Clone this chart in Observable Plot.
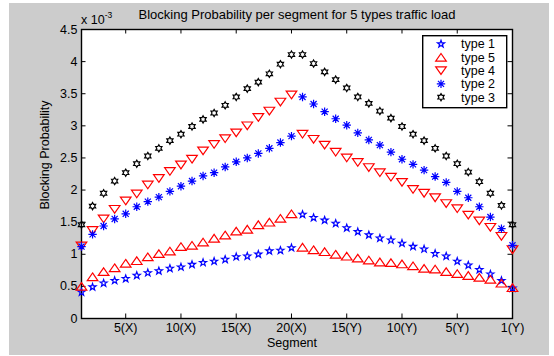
<!DOCTYPE html>
<html><head><meta charset="utf-8">
<script src="https://cdn.jsdelivr.net/npm/d3@7"></script>
<script src="https://cdn.jsdelivr.net/npm/@observablehq/plot@0.6"></script>
<style>
html,body{margin:0;padding:0;background:#fff;overflow:hidden;}
#wrap{position:relative;width:554px;height:356px;overflow:hidden;font-family:Arial,"Liberation Sans",sans-serif;color:#000;}
#bg{position:absolute;left:9px;top:3px;width:540px;height:352px;background:#cccccc;}
#chart{position:absolute;left:0;top:0;}
.t{position:absolute;white-space:nowrap;line-height:1;}
#legend{position:absolute;left:422px;top:35px;}
</style></head><body>
<div id="wrap">
  <div id="bg"></div>
  <div id="chart"></div>
  <div class="t" id="title" style="left:297px;top:14px;transform:translate(-50%,-50%);font-size:13px;">Blocking Probability per segment for 5 types traffic load</div>
  <div class="t" id="exp" style="left:81px;top:14px;font-size:12.5px;">x 10<span style="font-size:8.5px;position:relative;top:-6px;">-3</span></div>
  <div class="t" id="ylab" style="left:45px;top:155px;transform:translate(-50%,-50%) rotate(-90deg);font-size:12.5px;">Blocking Probability</div>
  <div class="t" id="xlab" style="left:292px;top:343px;transform:translate(-50%,-50%);font-size:12.5px;">Segment</div>
  <div id="legend"></div>
</div>
<script>
// ---- data ----
const segments = [1,2,3,4,5,6,7,8,9,10,11,12,13,14,15,16,17,18,19,20,21,22,23,24,25,26,27,28,29,30,31,32,33,34,35,36,37,38,39,40];
const xTickPos = [5,10,15,20,25,30,35,40];
const xTickLabels = ["5(X)","10(X)","15(X)","20(X)","15(Y)","10(Y)","5(Y)","1(Y)"];
const yTicks = [0,0.5,1,1.5,2,2.5,3,3.5,4,4.5];
const seriesNames = ["type 1","type 5","type 4","type 2","type 3"];
const type1 = [0.41,0.49,0.55,0.59,0.62,0.67,0.71,0.74,0.78,0.80,0.84,0.87,0.89,0.92,0.96,0.97,1.00,1.05,1.06,1.10,
               1.62,1.57,1.53,1.48,1.41,1.35,1.30,1.25,1.22,1.17,1.12,1.08,1.01,0.97,0.89,0.83,0.76,0.69,0.59,0.47];
const type5 = [0.50,0.65,0.73,0.79,0.86,0.90,0.96,1.01,1.05,1.12,1.14,1.19,1.25,1.30,1.36,1.39,1.46,1.50,1.56,1.63,
               1.11,1.07,1.04,1.00,0.97,0.94,0.91,0.88,0.87,0.85,0.82,0.78,0.77,0.73,0.70,0.67,0.64,0.61,0.55,0.48];
const type4 = [1.13,1.37,1.55,1.70,1.83,1.94,2.08,2.18,2.29,2.39,2.48,2.61,2.71,2.80,2.89,3.00,3.13,3.23,3.37,3.48,
               2.87,2.79,2.70,2.59,2.50,2.43,2.35,2.27,2.20,2.12,2.01,1.95,1.88,1.79,1.71,1.61,1.52,1.42,1.28,1.07];
const type2 = [1.12,1.31,1.44,1.55,1.63,1.74,1.82,1.89,1.98,2.06,2.14,2.22,2.27,2.36,2.44,2.50,2.57,2.65,2.74,2.84,
               3.45,3.34,3.22,3.11,3.01,2.89,2.78,2.70,2.59,2.48,2.40,2.31,2.21,2.12,1.98,1.88,1.74,1.58,1.40,1.14];
const type3 = [1.46,1.75,1.95,2.14,2.27,2.41,2.53,2.65,2.77,2.87,2.99,3.10,3.20,3.32,3.45,3.58,3.68,3.81,3.96,4.11,
               4.11,3.97,3.84,3.72,3.59,3.45,3.35,3.23,3.12,2.99,2.87,2.77,2.65,2.53,2.41,2.28,2.13,1.95,1.76,1.46];

// ---- marker shapes (MATLAB-like) ----
function starSym(n, inner) {
  return {draw(ctx, size) {
    const r = Math.sqrt(size / Math.PI);
    for (let i = 0; i < 2 * n; i++) {
      const a = -Math.PI / 2 + i * Math.PI / n, rr = i % 2 ? r * inner : r;
      const x = rr * Math.cos(a), y = rr * Math.sin(a);
      if (i) ctx.lineTo(x, y); else ctx.moveTo(x, y);
    }
    ctx.closePath();
  }};
}
const pentagram = starSym(5, 0.40), hexagram = starSym(6, 0.577);
const triUp = {draw(ctx, size) { const r = Math.sqrt(size / Math.PI);
  ctx.moveTo(0, -0.72 * r); ctx.lineTo(r, 0.72 * r); ctx.lineTo(-r, 0.72 * r); ctx.closePath(); }};
const triDown = {draw(ctx, size) { const r = Math.sqrt(size / Math.PI);
  ctx.moveTo(0, 0.72 * r); ctx.lineTo(r, -0.72 * r); ctx.lineTo(-r, -0.72 * r); ctx.closePath(); }};
const asterisk = {draw(ctx, size) { const r = Math.sqrt(size / Math.PI), d = r * 0.72;
  ctx.moveTo(-r, 0); ctx.lineTo(r, 0); ctx.moveTo(0, -r); ctx.lineTo(0, r);
  ctx.moveTo(-d, -d); ctx.lineTo(d, d); ctx.moveTo(-d, d); ctx.lineTo(d, -d); }};

const seriesValues = [type1, type5, type4, type2, type3];
const seriesStyle = [
  {symbol: pentagram, color: "#0000ff", r: 3.7},
  {symbol: triUp, color: "#ff0000", r: 5.3},
  {symbol: triDown, color: "#ff0000", r: 5.3},
  {symbol: asterisk, color: "#0000ff", r: 4.2},
  {symbol: hexagram, color: "#000000", r: 3.6}
];

const W = 554, H = 356, mL = 81, mR = 42, mT = 29, mB = 38;
const pw = W - mL - mR, ph = H - mT - mB, tk = 4.5;

const plot = Plot.plot({
  width: W, height: H,
  marginLeft: mL, marginRight: mR, marginTop: mT, marginBottom: mB,
  style: {background: "transparent", fontFamily: "Arial, 'Liberation Sans', sans-serif", fontSize: "12.5px", color: "black", overflow: "visible"},
  x: {domain: [1, 40]},
  y: {domain: [0, 4.5]},
  marks: [
    Plot.frame({fill: "white", stroke: "none"}),
    Plot.tickX(xTickPos, {x: d => d, insetTop: ph - tk, stroke: "black"}),
    Plot.tickX(xTickPos, {x: d => d, insetBottom: ph - tk, stroke: "black"}),
    Plot.tickY(yTicks, {y: d => d, insetRight: pw - tk, stroke: "black"}),
    Plot.tickY(yTicks, {y: d => d, insetLeft: pw - tk, stroke: "black"}),
    Plot.frame({stroke: "black", strokeWidth: 1.4}),
    Plot.axisX(xTickPos, {tickSize: 0, tickPadding: 5, label: null,
      tickFormat: d => xTickLabels[xTickPos.indexOf(d)]}),
    Plot.axisY(yTicks, {tickSize: 0, tickPadding: 4, label: null, tickFormat: d => String(d)}),
    ...seriesValues.map((vals, k) => Plot.dot(segments, {
      x: d => d, y: (d, i) => vals[i],
      symbol: seriesStyle[k].symbol, r: seriesStyle[k].r,
      fill: "none", stroke: seriesStyle[k].color, strokeWidth: 1.2
    }))
  ]
});
document.getElementById("chart").append(plot);

// ---- legend ----
const lw = 84, lh = 72;
const svg = d3.select("#legend").append("svg").attr("width", lw + 2).attr("height", lh + 2);
svg.append("rect").attr("x", 0.7).attr("y", 0.7).attr("width", lw).attr("height", lh)
  .attr("fill", "white").attr("stroke", "black").attr("stroke-width", 1.4);
seriesNames.forEach((name, k) => {
  const cy = 9 + k * 13.3;
  const s = seriesStyle[k];
  svg.append("path").attr("transform", `translate(19,${cy})`)
    .attr("d", d3.symbol(s.symbol, Math.PI * s.r * s.r)())
    .attr("fill", "none").attr("stroke", s.color).attr("stroke-width", 1.2);
  svg.append("text").attr("x", 39).attr("y", cy).attr("dy", "0.35em")
    .attr("font-family", "Arial, 'Liberation Sans', sans-serif").attr("font-size", 12.5)
    .text(name);
});
</script>
</body></html>
